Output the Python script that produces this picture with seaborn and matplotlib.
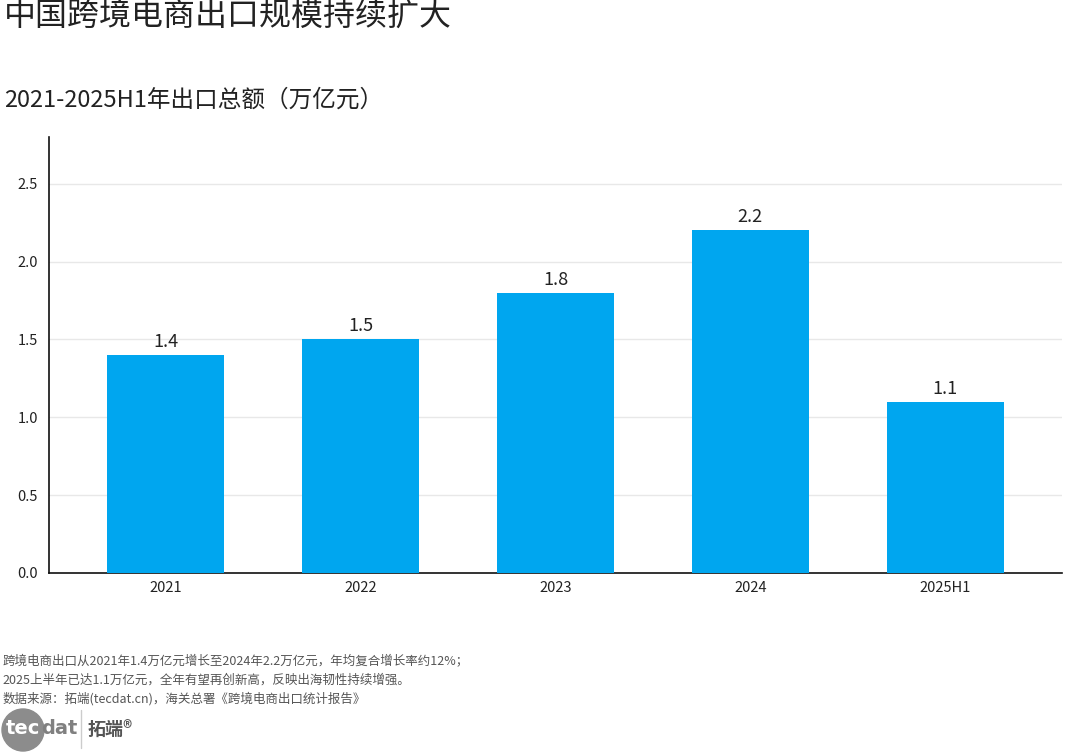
import matplotlib
matplotlib.use("Agg")
import matplotlib.pyplot as plt
import seaborn as sns
import pandas as pd
from matplotlib.patches import Ellipse

categories = ["2021", "2022", "2023", "2024", "2025H1"]
values = [1.4, 1.5, 1.8, 2.2, 1.1]
yticks = [0.0, 0.5, 1.0, 1.5, 2.0, 2.5]

title = "中国跨境电商出口规模持续扩大"
subtitle = "2021-2025H1年出口总额（万亿元）"
notes = [
    "跨境电商出口从2021年1.4万亿元增长至2024年2.2万亿元，年均复合增长率约12%；",
    "2025上半年已达1.1万亿元，全年有望再创新高，反映出海韧性持续增强。",
    "数据来源：拓端(tecdat.cn)，海关总署《跨境电商出口统计报告》",
]

sns.set_theme(style="white")
plt.rcParams["font.family"] = ["Noto Sans CJK SC", "DejaVu Sans"]

df = pd.DataFrame({"cat": categories, "val": values})

fig = plt.figure(figsize=(10.8, 7.56), dpi=100)
ax = fig.add_axes([49/1080, 1-573/756, (1062-49)/1080, (573-137)/756])

sns.barplot(data=df, x="cat", y="val", color="#00A6EF", width=0.6,
            saturation=1, linewidth=0, edgecolor="none", ax=ax, zorder=3)
ax.set_xlim(-0.6, 4.6)
ax.set_ylim(0, 2.8)
ax.set_yticks(yticks)
ax.set_yticklabels([f"{t:.1f}" for t in yticks], fontsize=10.5, color="#222222")
ax.tick_params(axis="x", labelsize=10.5, colors="#222222", length=0, pad=6)
ax.tick_params(axis="y", length=0, pad=8)
ax.set_xlabel("")
ax.set_ylabel("")
ax.grid(axis="y", color="#e8e8e8", linewidth=1, zorder=0)
for s in ["top", "right"]:
    ax.spines[s].set_visible(False)
for s in ["left", "bottom"]:
    ax.spines[s].set_color("#111111")
    ax.spines[s].set_linewidth(1.2)

for container in ax.containers:
    ax.bar_label(container, labels=[f"{v:.1f}" for v in values],
                 padding=3, fontsize=13, color="#222222")

fig.text(0.004, 1-16/756, title, fontsize=23, color="#222222", va="center", ha="left")
fig.text(0.004, 1-100/756, subtitle, fontsize=17, color="#222222", va="center", ha="left")

for i, line in enumerate(notes):
    fig.text(0.002, 1-(661+19*i)/756, line, fontsize=9, color="#555555",
             va="center", ha="left")

# logo
circ = Ellipse((23/1080, 1-730/756), 42/1080, 42/756, transform=fig.transFigure,
               color="#8c8c8c", zorder=5)
fig.add_artist(circ)
fig.text(6/1080, 1-729/756, "tec", fontsize=14, color="white", va="center",
         ha="left", zorder=6, family=["DejaVu Sans"], fontweight="semibold")
fig.text(41/1080, 1-729/756, "dat", fontsize=14, color="#808080", va="center",
         ha="left", zorder=6, family=["DejaVu Sans"], fontweight="semibold")
fig.add_artist(plt.Line2D([81/1080, 81/1080], [1-710/756, 1-748/756],
                          transform=fig.transFigure, color="#cccccc", linewidth=1))
fig.text(88/1080, 1-729/756, "拓端®", fontsize=13, color="#555555", va="center",
         ha="left", fontweight="bold")

fig.savefig("out.png", dpi=100)
